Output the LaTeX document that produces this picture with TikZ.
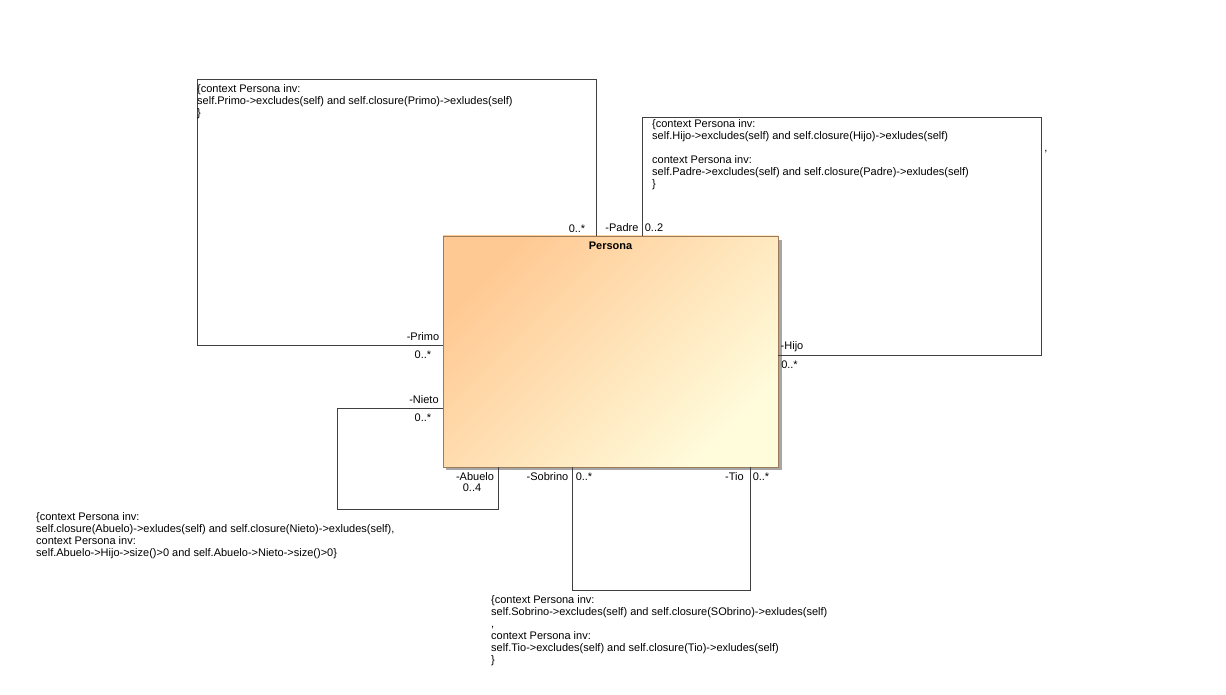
\documentclass[tikz,border=0pt]{standalone}
\usepackage{fontspec}
\setmainfont{Liberation Sans}
\usetikzlibrary{positioning}
\definecolor{classTop}{HTML}{FFC993}
\definecolor{classBottom}{HTML}{FFFCDC}
\definecolor{classBorder}{HTML}{9B7B5A}
\definecolor{lineGray}{HTML}{404040}
\tikzset{
  classbox/.style={draw=classBorder, top color=classTop, bottom color=classBottom,
    shading angle=45, minimum width=335pt, minimum height=231pt, inner sep=0pt},
  role/.style={font=\fontsize{11}{12}\selectfont, inner sep=0pt},
  note/.style={font=\fontsize{11}{12}\selectfont, inner sep=0pt, align=left, anchor=north west},
  assoc/.style={draw=lineGray, line width=0.9pt}
}
\begin{document}
\begin{tikzpicture}[x=1pt,y=-1pt]
\useasboundingbox (0,0) rectangle (1226,695);

% Class
\fill[black!35] (446,240) rectangle (782,470);% Shadow
\node[classbox] (persona) at (610.5,351.5) {};
\node[font=\fontsize{11}{12}\selectfont\bfseries, inner sep=0pt, below=5.5pt of persona.north] (personaName) {Persona};

% Corners of the loops
\coordinate (primoBL) at (197,345);
\coordinate (primoTR) at (596,79);
\coordinate (padreTL) at (642,117);
\coordinate (hijoBR) at (1041,355);
\coordinate (nietoBL) at (337,509);
\coordinate (nietoY) at (337,408);
\coordinate (abueloX) at (498,509);
\coordinate (sobrinoBL) at (572,590);
\coordinate (tioBR) at (750,590);

\draw[assoc] (persona.west |- primoBL) -- (primoBL) |- (primoTR) -- (persona.north -| primoTR);% Primo
\draw[assoc] (persona.north -| padreTL) -- (padreTL) -| (hijoBR) -- (persona.east |- hijoBR);% Padre / Hijo
\draw[assoc] (persona.west |- nietoY) -- (nietoY) -- (nietoBL) -- (abueloX) -- (persona.south -| abueloX);% Nieto / Abuelo
\draw[assoc] (persona.south -| sobrinoBL) -- (sobrinoBL) -- (tioBR) -- (persona.south -| tioBR);% Sobrino / Tio

% Role names and multiplicities
\node[role] (primoTopMult) at (577,229) {0..*};
\node[role] (padreName) at (622,228) {-Padre};
\node[role] (padreMult) at (654,228) {0..2};
\node[role] (primoName) at (423,337) {-Primo};
\node[role] (primoMult) at (423,355) {0..*};
\node[role] (hijoName) at (792,347) {-Hijo};
\node[role] (hijoMult) at (789.5,365) {0..*};
\node[role] (nietoName) at (424,400) {-Nieto};
\node[role] (nietoMult) at (423,418) {0..*};
\node[role] (abueloName) at (475,477) {-Abuelo};
\node[role] (abueloMult) at (472,488) {0..4};
\node[role] (sobrinoName) at (547.5,477) {-Sobrino};
\node[role] (sobrinoMult) at (584,477) {0..*};
\node[role] (tioName) at (734.5,477) {-Tio};
\node[role] (tioMult) at (761,477) {0..*};

% Constraints
\node[note] (primoNote) at (197,84) {\{context Persona inv:\\
self.Primo->excludes(self) and self.closure(Primo)->exludes(self)\\
\}};
\node[note] (padreNote) at (652,119) {\{context Persona inv:\\
self.Hijo->excludes(self) and self.closure(Hijo)->exludes(self)\\[12pt]
context Persona inv:\\
self.Padre->excludes(self) and self.closure(Padre)->exludes(self)\\
\}};
\node[role] (strayComma) at (1046,152) {,};
\node[note] (abueloNote) at (36,512) {\{context Persona inv:\\
self.closure(Abuelo)->exludes(self) and self.closure(Nieto)->exludes(self),\\
context Persona inv:\\
self.Abuelo->Hijo->size()>0 and self.Abuelo->Nieto->size()>0\}};
\node[note] (sobrinoNote) at (491,595) {\{context Persona inv:\\
self.Sobrino->excludes(self) and self.closure(SObrino)->exludes(self)\\
,\\
context Persona inv:\\
self.Tio->excludes(self) and self.closure(Tio)->exludes(self)\\
\}};
\end{tikzpicture}
\end{document}
